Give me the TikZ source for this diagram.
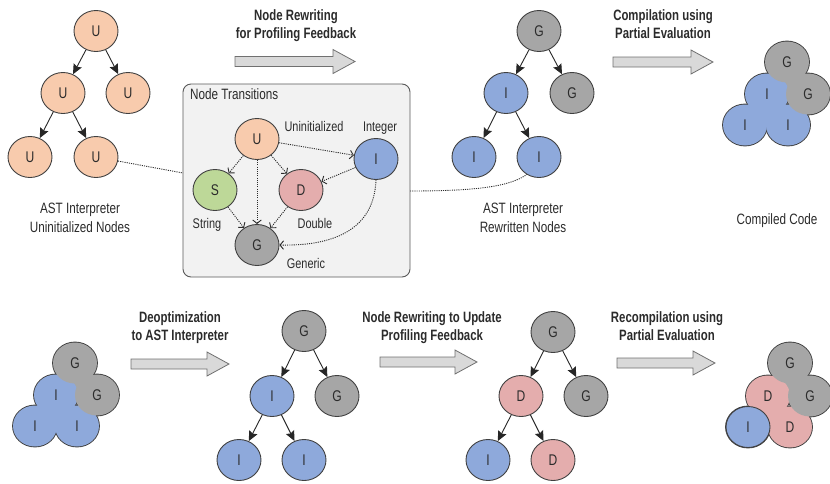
\documentclass[tikz,border=0pt]{standalone}
\usepackage{fontspec}
\setmainfont{Liberation Sans}
\newfontfamily\nar[FakeStretch=0.78]{Liberation Sans}
\newfontfamily\narb[FakeStretch=0.76]{Liberation Sans}
\usetikzlibrary{arrows.meta,shapes.geometric}

\definecolor{cU}{HTML}{F8CBAD}
\definecolor{cI}{HTML}{8EA9DB}
\definecolor{cG}{HTML}{A6A6A6}
\definecolor{cS}{HTML}{BDD898}
\definecolor{cD}{HTML}{E4ADAD}
\definecolor{edge}{HTML}{404040}
\definecolor{ink}{HTML}{2B2B2B}
\definecolor{boxfill}{HTML}{F2F2F2}
\definecolor{boxedge}{HTML}{595959}
\definecolor{arrfill}{HTML}{D9D9D9}
\definecolor{arredge}{HTML}{707070}

\tikzset{
  ast/.style={ellipse, draw=edge, line width=0.9pt, minimum width=44pt,
    minimum height=41pt, inner sep=0pt, text=ink,
    font=\nar\fontsize{15.5}{17}\selectfont},
  letter/.style={inner sep=0pt, text=ink, font=\nar\fontsize{15.5}{17}\selectfont},
  lbl/.style={text=ink, font=\nar\fontsize{15}{19}\selectfont, anchor=base, inner sep=0pt},
  ttl/.style={text=ink, font=\narb\bfseries\fontsize{15}{18}\selectfont, anchor=base, inner sep=0pt},
  small/.style={text=ink, font=\nar\fontsize{14}{16}\selectfont, anchor=base, inner sep=0pt},
  child/.style={draw=black!85, line width=0.9pt,
    -{Stealth[length=10pt,width=9pt,inset=1.5pt]}},
  trans/.style={draw=ink, line width=0.9pt, dash pattern=on 1.1pt off 1.1pt,
    -{Straight Barb[length=3.5pt,width=8.5pt]}},
  conn/.style={draw=ink, line width=0.9pt, dash pattern=on 1.1pt off 1.1pt},
  flow/.style={fill=arrfill, draw=arredge, line width=0.8pt, line join=miter},
  rim/.style={draw=edge, line width=1.8pt},
}

% wide grey process arrow: #1 = left x, #2 = tip x, #3 = middle y
\newcommand\flowarrow[3]{%
  \draw[flow] (#1,#3-5) -- (#2-22,#3-5) -- (#2-22,#3-12) -- (#2,#3)
    -- (#2-22,#3+12) -- (#2-22,#3+5) -- (#1,#3+5) -- cycle;}
% discs of a compiled cluster: outer rim first, then the colour fills
\newcommand\disc[2]{\fill[#1] #2 ellipse [x radius=22pt, y radius=20.5pt];}
\newcommand\discrim[1]{\path[rim] #1 ellipse [x radius=22pt, y radius=20.5pt];}
% closes the little gap where three discs meet
\newcommand\web[4]{\fill[#1] #2 -- #3 -- #4 -- cycle;}

\begin{document}
\begin{tikzpicture}[x=1pt,y=-1pt]
\useasboundingbox (0,0) rectangle (830,483);

% ---------- uninitialized AST ----------
\node[ast,fill=cU] (a1) at (96,31) {U};
\node[ast,fill=cU] (a2) at (63,93) {U};
\node[ast,fill=cU] (a3) at (128,93) {U};
\node[ast,fill=cU] (a4) at (30,157) {U};
\node[ast,fill=cU] (a5) at (96,157) {U};
\draw[child] (a1) -- (a2);
\draw[child] (a1) -- (a3);
\draw[child] (a2) -- (a4);
\draw[child] (a2) -- (a5);
\node[lbl] (la1) at (80,213) {AST Interpreter};
\node[lbl] (la2) at (80,232) {Uninitialized Nodes};

% ---------- node rewriting ----------
\node[ttl] (t1a) at (296,20.5) {Node Rewriting};
\node[ttl] (t1b) at (296,38.5) {for Profiling Feedback};
\flowarrow{235}{355}{61.5}

% ---------- node transitions ----------
\node[draw=boxedge, fill=boxfill, rounded corners=8pt, line width=0.9pt,
  minimum width=227pt, minimum height=193pt, inner sep=0pt] (tbox) at (296.5,180.5) {};
\node[lbl, anchor=base west] (tboxt) at (190,99) {Node Transitions};

\node[ast,fill=cU] (tU) at (257,139) {U};
\node[ast,fill=cS] (tS) at (215,190) {S};
\node[ast,fill=cD] (tD) at (301,190) {D};
\node[ast,fill=cI] (tI) at (376,159) {I};
\node[ast,fill=cG] (tG) at (257,245) {G};
\node[small] (nU) at (314,131) {Uninitialized};
\node[small] (nI) at (380,131) {Integer};
\node[small] (nS) at (207,228) {String};
\node[small] (nD) at (315,228) {Double};
\node[small] (nG) at (306,268) {Generic};

\draw[trans] (tU) -- (tI);
\draw[trans] (tU) -- (tS);
\draw[trans] (tU) -- (tG);
\draw[trans] (tU) -- (tD);
\draw[trans] (tI) -- (tD);
\draw[trans] (tS) -- (tG);
\draw[trans] (tD) -- (tG);
\draw[trans] (tI.south) .. controls (374,232) and (330,246) .. (tG.east);

% ---------- rewritten AST ----------
\node[ast,fill=cG] (b1) at (539,31) {G};
\node[ast,fill=cI] (b2) at (506,93) {I};
\node[ast,fill=cG] (b3) at (572,93) {G};
\node[ast,fill=cI] (b4) at (474,157) {I};
\node[ast,fill=cI] (b5) at (539,157) {I};
\draw[child] (b1) -- (b2);
\draw[child] (b1) -- (b3);
\draw[child] (b2) -- (b4);
\draw[child] (b2) -- (b5);
\node[lbl] (lb1) at (523,213) {AST Interpreter};
\node[lbl] (lb2) at (523,232) {Rewritten Nodes};

% links between the trees and the transition box
\coordinate (boxin) at (183,173);
\coordinate (boxout) at (410,191);
\draw[conn] (a5) -- (boxin);
\draw[conn] (boxout) .. controls (480,191) and (510,186) .. (b5.235);

% ---------- compilation ----------
\node[ttl] (t2a) at (663,20.5) {Compilation using};
\node[ttl] (t2b) at (663,38.5) {Partial Evaluation};
\flowarrow{613}{713}{62}

\foreach \p in {(787,62),(767,94),(808,94),(745,125),(788,125)} {\discrim{\p}}
\web{cI}{(767,94)}{(745,125)}{(788,125)}
\web{cG}{(787,62)}{(767,94)}{(808,94)}
\foreach \p in {(767,94),(745,125),(788,125)} {\disc{cI}{\p}}
\foreach \p in {(787,62),(808,94)} {\disc{cG}{\p}}
\node[letter] (k1) at (787,62) {G};
\node[letter] (k2) at (767,94) {I};
\node[letter] (k3) at (808,94) {G};
\node[letter] (k4) at (745,125) {I};
\node[letter] (k5) at (788,125) {I};
\node[lbl] (lk) at (777,224) {Compiled Code};

% ---------- deoptimization ----------
\foreach \p in {(75,363),(56,395),(97,395),(35,426),(77,426)} {\discrim{\p}}
\web{cI}{(56,395)}{(35,426)}{(77,426)}
\web{cG}{(75,363)}{(56,395)}{(97,395)}
\foreach \p in {(56,395),(35,426),(77,426)} {\disc{cI}{\p}}
\foreach \p in {(75,363),(97,395)} {\disc{cG}{\p}}
\node[letter] (m1) at (75,363) {G};
\node[letter] (m2) at (56,395) {I};
\node[letter] (m3) at (97,395) {G};
\node[letter] (m4) at (35,426) {I};
\node[letter] (m5) at (77,426) {I};

\node[ttl] (t3a) at (180,322) {Deoptimization};
\node[ttl] (t3b) at (180,340) {to AST Interpreter};
\flowarrow{131}{229}{364}

\node[ast,fill=cG] (c1) at (304,331) {G};
\node[ast,fill=cI] (c2) at (272,396) {I};
\node[ast,fill=cG] (c3) at (337,396) {G};
\node[ast,fill=cI] (c4) at (239,460) {I};
\node[ast,fill=cI] (c5) at (304,460) {I};
\draw[child] (c1) -- (c2);
\draw[child] (c1) -- (c3);
\draw[child] (c2) -- (c4);
\draw[child] (c2) -- (c5);

% ---------- rewriting to update ----------
\node[ttl] (t4a) at (432,322) {Node Rewriting to Update};
\node[ttl] (t4b) at (432,340) {Profiling Feedback};
\flowarrow{380}{477}{362}

\node[ast,fill=cG] (d1) at (553,332) {G};
\node[ast,fill=cD] (d2) at (521,396) {D};
\node[ast,fill=cG] (d3) at (586,396) {G};
\node[ast,fill=cI] (d4) at (488,460) {I};
\node[ast,fill=cD] (d5) at (553,460) {D};
\draw[child] (d1) -- (d2);
\draw[child] (d1) -- (d3);
\draw[child] (d2) -- (d4);
\draw[child] (d2) -- (d5);

% ---------- recompilation ----------
\node[ttl] (t5a) at (667,322) {Recompilation using};
\node[ttl] (t5b) at (667,340) {Partial Evaluation};
\flowarrow{617}{715}{363}

\foreach \p in {(790,363),(768,396),(810,396),(748,427),(790,427)} {\discrim{\p}}
\web{cD}{(768,396)}{(748,427)}{(790,427)}
\web{cG}{(790,363)}{(768,396)}{(810,396)}
\foreach \p in {(768,396),(790,427)} {\disc{cD}{\p}}
\foreach \p in {(790,363),(810,396)} {\disc{cG}{\p}}
\draw[draw=edge, line width=0.9pt, fill=cI] (748,427) ellipse [x radius=22pt, y radius=20.5pt];
\node[letter] (r1) at (790,363) {G};
\node[letter] (r2) at (768,396) {D};
\node[letter] (r3) at (810,396) {G};
\node[letter] (r4) at (748,427) {I};
\node[letter] (r5) at (790,427) {D};
\end{tikzpicture}
\end{document}
